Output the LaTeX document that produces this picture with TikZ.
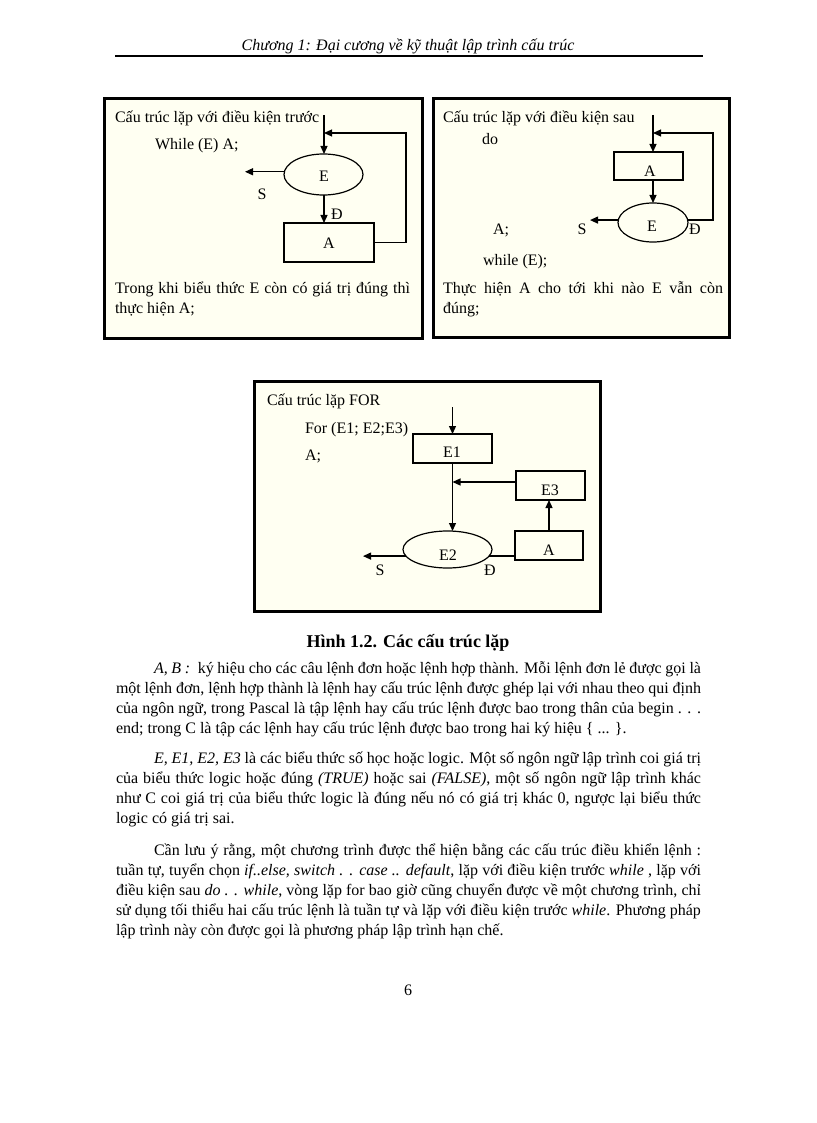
\documentclass[tikz,border=0pt]{standalone}
\usepackage{fontspec}
\setmainfont{Liberation Serif}
\usetikzlibrary{arrows.meta,shapes.geometric}
\newcommand{\bodyfont}{\fontsize{16}{20}\selectfont}
\newcommand{\jl}[2]{\makebox[#1][s]{#2}}
\begin{document}
\begin{tikzpicture}[x=1pt,y=-1pt,
  txt/.style={anchor=base west, inner sep=0pt, outer sep=0pt, font=\bodyfont},
  ctxt/.style={anchor=base, inner sep=0pt, outer sep=0pt, font=\bodyfont},
  frame/.style={draw, line width=3pt, fill={rgb,255:red,255;green,255;blue,242}},
  rbox/.style={draw, rectangle, line width=1.2pt, inner sep=0pt, outer sep=0pt},
  ell/.style={draw, ellipse, line width=1.2pt, inner sep=0pt, outer sep=0pt},
  arr/.style={-{Triangle[length=8pt,width=7pt]}, line width=1.2pt},
  ln/.style={line width=1.2pt}]
\useasboundingbox[fill=white] (0,0) rectangle (816,1123);

% header
\node[anchor=base, inner sep=0pt, font=\bodyfont\itshape] (hdr) at (408,51) {Chương 1: Đại cương về kỹ thuật lập trình cấu trúc};
\draw[line width=2pt] (115,56) -- (703,56);

% frames
\draw[frame] (104.5,98.5) rectangle (422.5,338.5);
\draw[frame] (433.5,98.5) rectangle (729.5,337.5);
\draw[frame] (254.5,381.5) rectangle (600.5,611.5);

% ---------- box 1 ----------
\node[txt] (t1a) at (115,123) {Cấu trúc lặp với điều kiện trước};
\node[txt] (t1b) at (155,150) {While (E) A;};
\node[txt] (t1c) at (115,293) {\jl{295pt}{Trong khi biểu thức E còn có giá trị đúng thì}};
\node[txt] (t1d) at (115,313) {thực hiện A;};

\node[ell, minimum width=79pt, minimum height=41pt] (E1e) at (323.5,174.5) {};
\node[rbox, minimum width=90pt, minimum height=39pt] (A1) at (329,242.5) {};
\node[ctxt] (lE1) at (324,182) {E};
\node[ctxt] (lA1) at (329,248) {A};
\node[ctxt] (lS1) at (262,200) {S};
\node[ctxt] (lD1) at (337,219) {Đ};

\coordinate (in1) at (324,115);
\coordinate (s1) at (245,0);
\coordinate (fb1) at (406,133);
\draw[arr] (in1) -- (in1 |- E1e.north);
\draw[arr] (E1e.176) -- (E1e.176 -| s1);
\draw[arr] (in1 |- E1e.south) -- (in1 |- A1.north);
\draw[arr] (A1.east) -- (A1.east -| fb1) -- (fb1) -- (in1 |- fb1);

% ---------- box 2 ----------
\node[txt] (t2a) at (443,123) {Cấu trúc lặp với điều kiện sau};
\node[txt] (t2b) at (482,145) {do};
\node[txt] (t2c) at (493,235) {A;};
\node[txt] (t2d) at (483,265) {while (E);};
\node[txt] (t2e) at (443,293) {\jl{280pt}{Thực hiện A cho tới khi nào E vẫn còn}};
\node[txt] (t2f) at (443,313) {đúng;};

\node[rbox, minimum width=69pt, minimum height=28pt] (A2) at (648.5,166) {};
\node[ell, minimum width=70pt, minimum height=39pt] (E2e) at (653,222.5) {};
\node[ctxt] (lA2) at (650,177) {A};
\node[ctxt] (lE2) at (652,232) {E};
\node[ctxt] (lS2) at (582,235) {S};
\node[ctxt] (lD2) at (695,235) {Đ};

\coordinate (in2) at (653,115);
\coordinate (s2) at (590,0);
\coordinate (fb2) at (713,133);
\draw[arr] (in2) -- (in2 |- A2.north);
\draw[arr] (in2 |- A2.south) -- (in2 |- E2e.north);
\draw[arr] (E2e.176) -- (E2e.176 -| s2);
\draw[arr] (E2e.4) -- (E2e.4 -| fb2) -- (fb2) -- (in2 |- fb2);

% ---------- box 3 ----------
\node[txt] (t3a) at (267,405) {Cấu trúc lặp FOR};
\node[txt] (t3b) at (305,433) {For (E1; E2;E3)};
\node[txt] (t3c) at (305,460) {A;};

\node[rbox, minimum width=79pt, minimum height=29pt] (E1b) at (452.5,448.5) {};
\node[rbox, minimum width=69pt, minimum height=29pt] (E3b) at (550.5,485.5) {};
\node[ell, minimum width=89pt, minimum height=37pt] (E2b) at (447.5,549.5) {};
\node[rbox, minimum width=68pt, minimum height=29pt] (Ab) at (549,545.5) {};
\node[ctxt] (lE1b) at (452,457) {E1};
\node[ctxt] (lE3b) at (550,495) {E3};
\node[ctxt] (lE2b) at (448,560) {E2};
\node[ctxt] (lAb) at (549,555) {A};
\node[ctxt] (lS3) at (380,575) {S};
\node[ctxt] (lD3) at (490,575) {Đ};

\coordinate (in3) at (452.5,407);
\coordinate (j3) at (452.5,482);
\coordinate (s3) at (363,0);
\draw[arr] (in3) -- (E1b.north);
\draw[arr] (E1b.south) -- (E1b.south |- E2b.north);
\draw[arr] (E3b.west |- j3) -- (j3);
\draw[arr] (Ab.north) -- (Ab.north |- E3b.south);
\draw[arr] (E2b.189) -- (E2b.189 -| s3);
\draw[ln] (E2b.351) -- (E2b.351 -| Ab.west);

% caption
\node[anchor=base, inner sep=0pt, font=\fontsize{18}{22}\selectfont\bfseries] (cap) at (408,647) {Hình 1.2. Các cấu trúc lặp};

% paragraph 1
\node[txt] (p1a) at (154,673) {\jl{547pt}{\textit{A, B :}\ \ ký hiệu cho các câu lệnh đơn hoặc lệnh hợp thành. Mỗi lệnh đơn lẻ được gọi là}};
\node[txt] (p1b) at (116,693) {\jl{585pt}{một lệnh đơn, lệnh hợp thành là lệnh hay cấu trúc lệnh được ghép lại với nhau theo qui định}};
\node[txt] (p1c) at (116,713) {\jl{585pt}{của ngôn ngữ, trong Pascal là tập lệnh hay cấu trúc lệnh được bao trong thân của begin . . .}};
\node[txt] (p1d) at (116,733) {end; trong C là tập các lệnh hay cấu trúc lệnh được bao trong hai ký hiệu \{ ... \}.};

% paragraph 2
\node[txt] (p2a) at (154,763) {\jl{547pt}{\textit{E, E1, E2, E3} là các biểu thức số học hoặc logic. Một số ngôn ngữ lập trình coi giá trị}};
\node[txt] (p2b) at (116,783) {\jl{585pt}{của biểu thức logic hoặc đúng \textit{(TRUE)} hoặc sai \textit{(FALSE)}, một số ngôn ngữ lập trình khác}};
\node[txt] (p2c) at (116,803) {\jl{585pt}{như C coi giá trị của biểu thức logic là đúng nếu nó có giá trị khác 0, ngược lại biểu thức}};
\node[txt] (p2d) at (116,823) {logic có giá trị sai.};

% paragraph 3
\node[txt] (p3a) at (154,855) {\jl{547pt}{Cần lưu ý rằng, một chương trình được thể hiện bằng các cấu trúc điều khiển lệnh :}};
\node[txt] (p3b) at (116,875) {\jl{585pt}{tuần tự, tuyển chọn \textit{if..else, switch . . case .. default}, lặp với điều kiện trước \textit{while} , lặp với}};
\node[txt] (p3c) at (116,895) {\jl{585pt}{điều kiện sau \textit{do . . while}, vòng lặp for bao giờ cũng chuyển được về một chương trình, chỉ}};
\node[txt] (p3d) at (116,915) {\jl{585pt}{sử dụng tối thiểu hai cấu trúc lệnh là tuần tự và lặp với điều kiện trước \textit{while}. Phương pháp}};
\node[txt] (p3e) at (116,935) {lập trình này còn được gọi là phương pháp lập trình hạn chế.};

% page number
\node[anchor=base, inner sep=0pt, font=\bodyfont] (pg) at (408,995) {6};
\end{tikzpicture}
\end{document}
